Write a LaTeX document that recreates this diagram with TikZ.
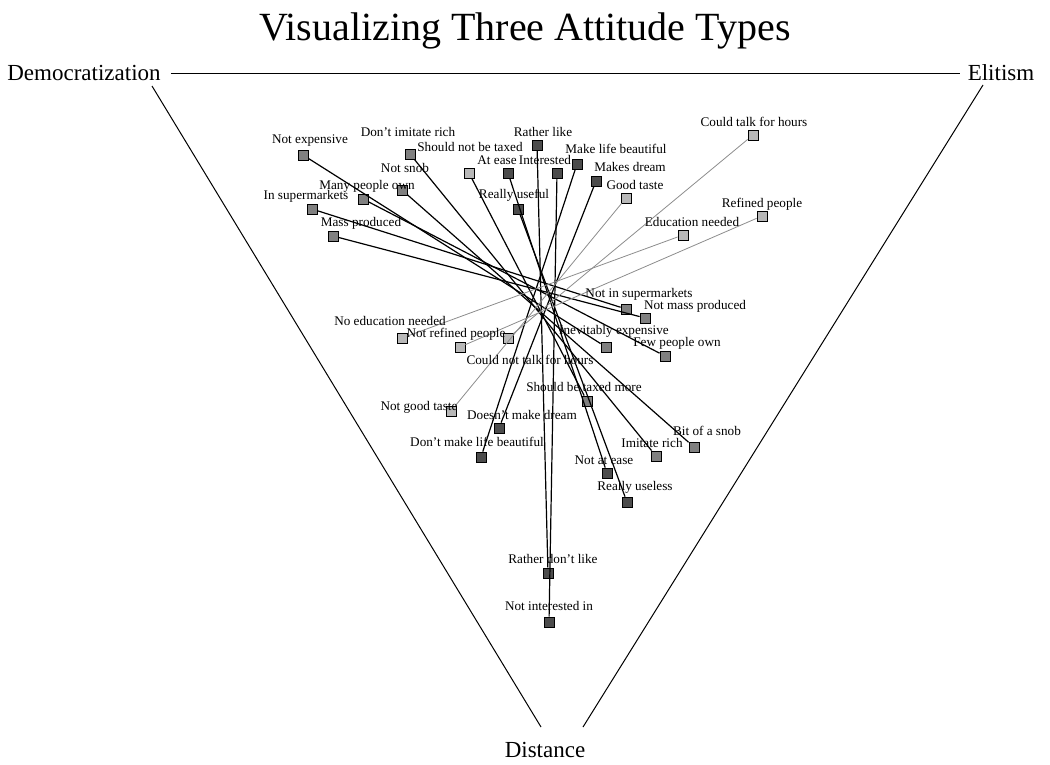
\documentclass[tikz,border=0pt]{standalone}
\usepackage{fontspec}
\setmainfont{Liberation Serif}
\usepackage{tikz}
\usetikzlibrary{positioning,calc}

\begin{document}
\begin{tikzpicture}[x=1pt,y=-1pt,
    darkbox/.style={draw=black,fill=black!70,minimum size=10pt,inner sep=0pt,line width=0.8pt},
    midbox/.style={draw=black,fill=black!50,minimum size=10pt,inner sep=0pt,line width=0.8pt},
    lightbox/.style={draw=black,fill=black!28,minimum size=10pt,inner sep=0pt,line width=0.8pt},
    lbl/.style={font=\fontsize{13.2}{15}\selectfont,inner sep=0pt},
    axislbl/.style={font=\fontsize{23}{26}\selectfont,inner sep=0pt},
    pairline/.style={line width=1.2pt},
    greyline/.style={black!45,line width=0.8pt}]
\useasboundingbox (0,0) rectangle (1050,764);

% Title
\node (title) at (525,31) {\fontsize{40}{44}\selectfont Visualizing Three Attitude Types};

% Axes
\node[axislbl] (dem) at (84,73) {Democratization};
\node[axislbl] (eli) at (1001,73) {Elitism};
\node[axislbl] (dist) at (545,750) {Distance};
\draw[line width=1pt,shorten <=10pt,shorten >=8pt] (dem) -- (eli);
\coordinate (lefttop) at (152,86);
\coordinate (leftbot) at (541,727);
\coordinate (righttop) at (983,85);
\coordinate (rightbot) at (583,727);
\draw[line width=1pt] (lefttop) -- (leftbot);
\draw[line width=1pt] (righttop) -- (rightbot);

% Squares, upper side
\node[midbox] (nexp) at (303,155) {};
\node[midbox] (dimit) at (410,154) {};
\node[lightbox] (ntax) at (469,173) {};
\node[midbox] (nsnob) at (402,190) {};
\node[midbox] (many) at (363,199) {};
\node[midbox] (insup) at (312,209) {};
\node[midbox] (mass) at (333,236) {};
\node[darkbox] (ease) at (508,173) {};
\node[darkbox] (inter) at (557,173) {};
\node[darkbox] (rlike) at (537,145) {};
\node[darkbox] (beaut) at (577,164) {};
\node[darkbox] (dream) at (596,181) {};
\node[darkbox] (useful) at (518,209) {};
\node[lightbox] (taste) at (626,198) {};
\node[lightbox] (talk) at (753,135) {};
\node[lightbox] (refined) at (762,216) {};
\node[lightbox] (edu) at (683,235) {};

% Squares, lower side
\node[lightbox] (nedu) at (402,338) {};
\node[lightbox] (nrefined) at (460,347) {};
\node[lightbox] (ntalk) at (508,338) {};
\node[lightbox] (ntaste) at (451,411) {};
\node[midbox] (ninsup) at (626,309) {};
\node[midbox] (nmass) at (645,318) {};
\node[midbox] (inexp) at (606,347) {};
\node[midbox] (few) at (665,356) {};
\node[midbox] (tax) at (587,401) {};
\node[darkbox] (ndream) at (499,428) {};
\node[darkbox] (nbeaut) at (481,457) {};
\node[darkbox] (nease) at (607,473) {};
\node[darkbox] (useless) at (627,502) {};
\node[midbox] (imit) at (656,456) {};
\node[midbox] (snob) at (694,447) {};
\node[darkbox] (rdlike) at (548,573) {};
\node[darkbox] (ninter) at (549,622) {};

% Opposite pairs
\foreach \a/\b in {nexp/inexp,dimit/imit,nsnob/snob,many/few,insup/ninsup,mass/nmass,
    ntax/tax,ease/nease,useful/useless,rlike/rdlike,inter/ninter,beaut/nbeaut,dream/ndream}
    \draw[pairline] (\a) -- (\b);
\foreach \a/\b in {talk/ntalk,refined/nrefined,edu/nedu,taste/ntaste}
    \draw[greyline] (\a) -- (\b);

% Labels
\node[lbl] (nexp-l) at (310,141) {Not expensive};
\node[lbl] (dimit-l) at (408,132) {Don't imitate rich};
\node[lbl] (ntax-l) at (470,147) {Should not be taxed};
\node[lbl] (nsnob-l) at (405,168) {Not snob};
\node[lbl] (many-l) at (367,186) {Many people own};
\node[lbl] (insup-l) at (306,196) {In supermarkets};
\node[lbl] (mass-l) at (361,223) {Mass produced};
\node[lbl] (ease-l) at (497,160) {At ease};
\node[lbl] (inter-l) at (545,160) {Interested};
\node[lbl] (rlike-l) at (543,132) {Rather like};
\node[lbl] (beaut-l) at (616,149) {Make life beautiful};
\node[lbl] (dream-l) at (630,167) {Makes dream};
\node[lbl] (useful-l) at (514,195) {Really useful};
\node[lbl] (taste-l) at (635,185) {Good taste};
\node[lbl] (talk-l) at (754,122) {Could talk for hours};
\node[lbl] (refined-l) at (762,204) {Refined people};
\node[lbl] (edu-l) at (692,222) {Education needed};
\node[lbl] (nedu-l) at (390,321) {No education needed};
\node[lbl] (nrefined-l) at (456,334) {Not refined people};
\node[lbl] (ntalk-l) at (530,360) {Could not talk for hours};
\node[lbl] (ntaste-l) at (419,407) {Not good taste};
\node[lbl] (ninsup-l) at (639,294) {Not in supermarkets};
\node[lbl] (nmass-l) at (695,306) {Not mass produced};
\node[lbl] (inexp-l) at (614,331) {Inevitably expensive};
\node[lbl] (few-l) at (677,343) {Few people own};
\node[lbl] (tax-l) at (584,387) {Should be taxed more};
\node[lbl] (ndream-l) at (522,415) {Doesn't make dream};
\node[lbl] (nbeaut-l) at (477,442) {Don't make life beautiful};
\node[lbl] (nease-l) at (604,460) {Not at ease};
\node[lbl] (useless-l) at (635,487) {Really useless};
\node[lbl] (imit-l) at (652,443) {Imitate rich};
\node[lbl] (snob-l) at (707,431) {Bit of a snob};
\node[lbl] (rdlike-l) at (553,559) {Rather don't like};
\node[lbl] (ninter-l) at (549,606) {Not interested in};
\end{tikzpicture}
\end{document}
